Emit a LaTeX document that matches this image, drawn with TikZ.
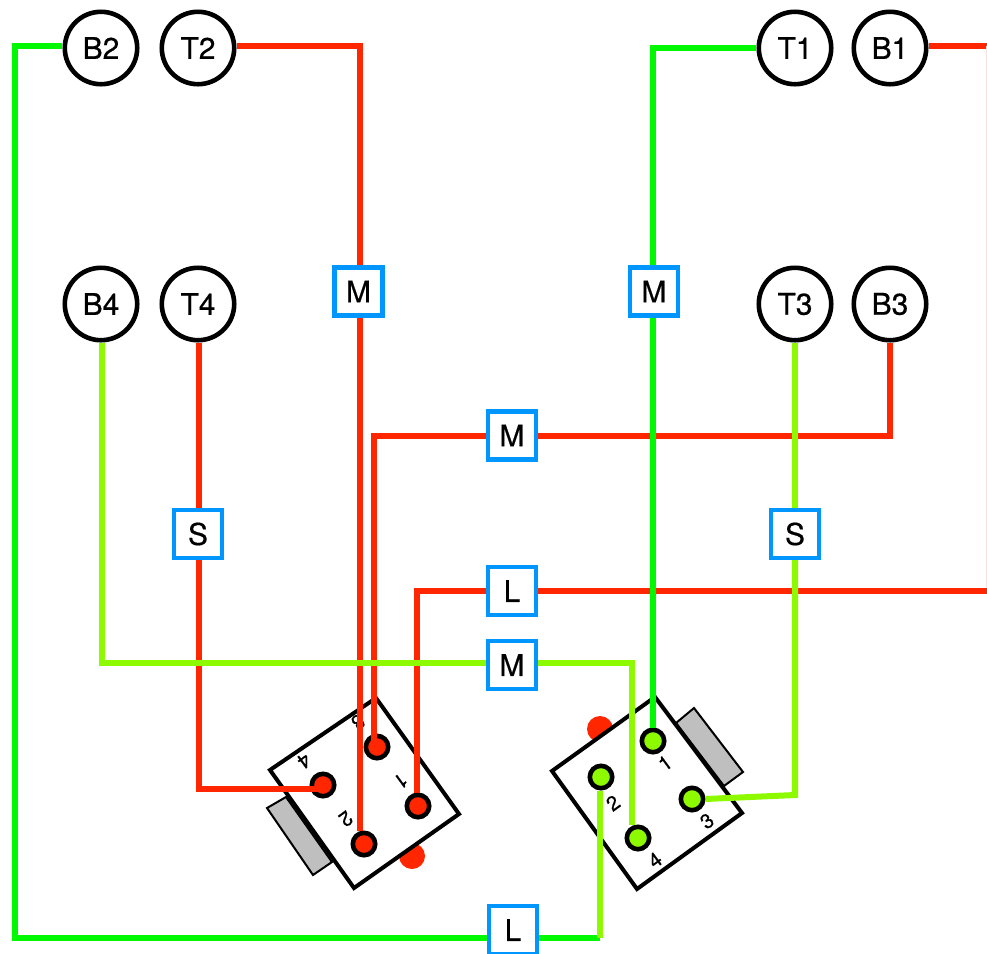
\documentclass[tikz,border=0pt]{standalone}
\usepackage{fontspec}
\setmainfont[FakeBold=.5]{TeX Gyre Heros}
\usetikzlibrary{backgrounds}
\definecolor{wirered}{HTML}{FF2600}
\definecolor{wiregreen}{HTML}{00F900}
\definecolor{wirelime}{HTML}{8EFA00}
\definecolor{boxblue}{HTML}{0096FF}
\tikzset{
  pin/.style={circle,draw=black,line width=.115cm,minimum size=1.81cm,inner sep=0pt,font=\fontsize{21.3}{23}\selectfont},
  cable/.style={rectangle,draw=boxblue,line width=.11cm,fill=white,minimum size=1.19cm,inner sep=0pt,font=\fontsize{21.3}{23}\selectfont},
  hole/.style={circle,draw=black,line width=.115cm,minimum size=.56cm,inner sep=0pt},
  num/.style={inner sep=0pt,font=\fontsize{14.5}{16}\selectfont},
  wire/.style={line width=.15cm,line join=miter}
}

\begin{document}
\begin{tikzpicture}[x=.025cm,y=-.025cm]
    \useasboundingbox (0,0) rectangle (987,954);

    \begin{scope}[on background layer]
      % Left switch
      \fill[wirered] (412,856) circle (13);
      \draw[fill=gray!50,line width=.05cm] (286,797) -- (267,808) -- (313,875) -- (332,862) -- cycle;
      \draw[fill=white,line width=.1cm] (376,698) -- (459,814) -- (354,888) -- (270,770) -- cycle;
      \node[hole,fill=wirered] (h1a) at (418,806) {};
      \node[hole,fill=wirered] (h2a) at (364,844) {};
      \node[hole,fill=wirered] (h3a) at (377,747) {};
      \node[hole,fill=wirered] (h4a) at (323,785) {};
      \node[num,rotate=216] (n1a) at (401,781) {1};
      \node[num,rotate=216] (n2a) at (346,819) {2};
      \node[num,rotate=216] (n3a) at (358,722) {3};
      \node[num,rotate=216] (n4a) at (304,761) {4};

      % Right switch
      \fill[wirered] (600,729) circle (13);
      \draw[fill=gray!50,line width=.05cm] (676,723) -- (694,708) -- (743,772) -- (724,786) -- cycle;
      \draw[fill=white,line width=.1cm] (655,697) -- (742,813) -- (637,889) -- (552,771) -- cycle;
      \node[hole,fill=wirelime] (h1b) at (653,741) {};
      \node[hole,fill=wirelime] (h2b) at (601,777) {};
      \node[hole,fill=wirelime] (h3b) at (692,799) {};
      \node[hole,fill=wirelime] (h4b) at (638,838) {};
      \node[num,rotate=36] (n1b) at (665,763) {1};
      \node[num,rotate=36] (n2b) at (613,803) {2};
      \node[num,rotate=36] (n3b) at (707,821) {3};
      \node[num,rotate=36] (n4b) at (655,860) {4};
    \end{scope}

    % Pins
    \foreach \name/\x/\y in {B2/101/48, T2/198/48, T1/795/48, B1/890/48, B4/101/304, T4/198/304, T3/795/304, B3/890/304}
    \node[pin] (\name) at (\x,\y) {\name};

    % Cables
    \node[cable] (mT2) at (358.5,291.5) {M};
    \node[cable] (mT1) at (654,291.5) {M};
    \node[cable] (mB3) at (512,435.5) {M};
    \node[cable] (sT4) at (198,534) {S};
    \node[cable] (sT3) at (795,534) {S};
    \node[cable] (lB1) at (512,591) {L};
    \node[cable] (mB4) at (512,665) {M};
    \node[cable] (lB2) at (513,930) {L};

    % Corners
    \coordinate (cB2a) at (15,46);
    \coordinate (cB2b) at (15,938);
    \coordinate (cB2c) at (600,938);
    \coordinate (cT2) at (360,46);
    \coordinate (cT1) at (653,48);
    \coordinate (cB1a) at (987,46);
    \coordinate (cB1b) at (987,591);
    \coordinate (cB1c) at (417,591);
    \coordinate (cT4) at (199,789);
    \coordinate (cB4a) at (102,663);
    \coordinate (cB4b) at (632,663);
    \coordinate (cT3) at (795,795);
    \coordinate (cB3a) at (890,436);
    \coordinate (cB3b) at (374,436);

    \begin{scope}[on background layer]
      % Red wires
      \draw[wire,wirered] (T2.east |- cT2) -- (cT2) -- (cT2 |- mT2.north);
      \draw[wire,wirered] (cT2 |- mT2.south) -- (cT2 |- h2a.north);
      \draw[wire,wirered] (cT4 |- T4.south) -- (cT4 |- sT4.north);
      \draw[wire,wirered] (cT4 |- sT4.south) -- (cT4) -- (cT4 -| h4a.center);
      \draw[wire,wirered] (B3.south) -- (cB3a) -- (cB3a -| mB3.east);
      \draw[wire,wirered] (cB3a -| mB3.west) -- (cB3b) -- (cB3b |- h3a.center);
      \draw[wire,wirered] (B1.east |- cB1a) -- (cB1a);
      \draw[wirered!15,line width=.03cm,xshift=-.025cm] (cB1a) -- (cB1b);
      \draw[wire,wirered] (cB1b) -- (lB1.east);
      \draw[wire,wirered] (lB1.west) -- (cB1c) -- (cB1c |- h1a.north);

      % Green wires
      \draw[wire,wiregreen] (B2.west |- cB2a) -- (cB2a) -- (cB2b) -- (cB2b -| lB2.west);
      \draw[wire,wiregreen] (cB2b -| lB2.east) -- (cB2c);
      \draw[wire,wiregreen] (T1.west) -- (cT1) -- (cT1 |- mT1.north);
      \draw[wire,wiregreen] (cT1 |- mT1.south) -- (cT1 |- h1b.north);

      % Lime wires
      \draw[wire,wirelime] (cB2c) -- (cB2c |- h2b.south);
      \draw[wire,wirelime] (cB4a |- B4.south) -- (cB4a) -- (cB4a -| mB4.west);
      \draw[wire,wirelime] (cB4a -| mB4.east) -- (cB4b) -- (cB4b |- h4b.north);
      \draw[wire,wirelime] (T3.south) -- (sT3.north);
      \draw[wire,wirelime] (sT3.south) -- (cT3) -- (h3b.east);
    \end{scope}
\end{tikzpicture}
\end{document}
